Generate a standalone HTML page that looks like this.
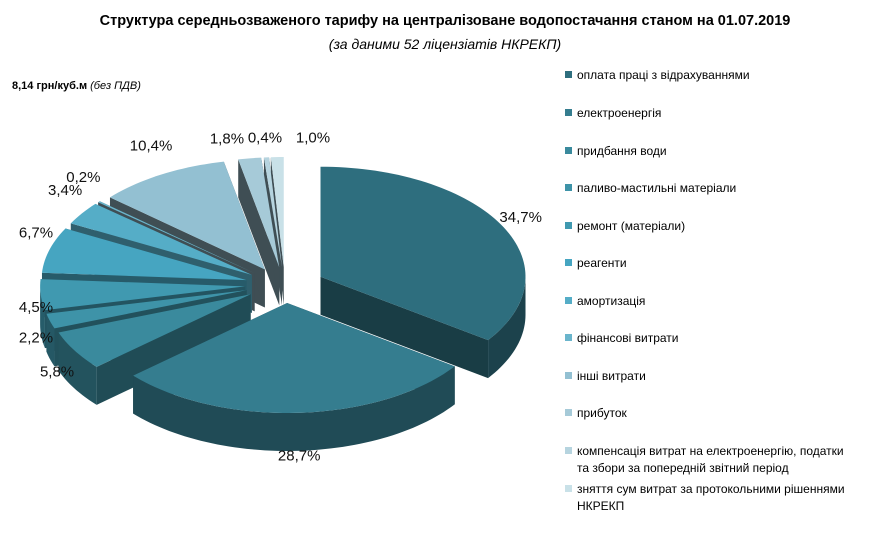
<!DOCTYPE html>
<html><head><meta charset="utf-8">
<style>
body{margin:0;background:#fff;width:890px;height:541px;overflow:hidden;font-family:"Liberation Sans","DejaVu Sans",sans-serif;}
svg text{font-family:"Liberation Sans","DejaVu Sans",sans-serif;}
</style></head>
<body>
<svg id="chart" width="890" height="541" viewBox="0 0 890 541" xmlns="http://www.w3.org/2000/svg">
<text x="445" y="25" text-anchor="middle" font-size="14.5" font-weight="bold" fill="#000">Структура середньозваженого тарифу на централізоване водопостачання станом на 01.07.2019</text>
<text x="445" y="49" text-anchor="middle" font-size="14" font-style="italic" fill="#000">(за даними 52 ліцензіатів НКРЕКП)</text>
<text x="12" y="89" font-size="11" fill="#000"><tspan font-weight="bold">8,14 грн/куб.м</tspan> <tspan font-style="italic">(без ПДВ)</tspan></text>
<g id="pie"></g>
<g id="labels"></g>
<g id="legend"></g>
</svg>
<script>
const categories = ["оплата праці з відрахуваннями","електроенергія","придбання води","паливо-мастильні матеріали","ремонт (матеріали)","реагенти","амортизація","фінансові витрати","інші витрати","прибуток","компенсація витрат на електроенергію, податки|та збори за попередній звітний період","зняття сум витрат за протокольними рішеннями|НКРЕКП"];
const values = [34.7,28.7,5.8,2.2,4.5,6.7,3.4,0.2,10.4,1.8,0.4,1.0];
const valueLabels = ["34,7%","28,7%","5,8%","2,2%","4,5%","6,7%","3,4%","0,2%","10,4%","1,8%","0,4%","1,0%"];
const colors = ["#2e6e7e","#357d8f","#3a8a9d","#3e93a8","#4099b0","#46a5c1","#55adc7","#6ab5cc","#93c0d2","#a6cad8","#b6d4df","#c9e1e8"];

const NS="http://www.w3.org/2000/svg";
const cx=285, cy=285, rx=205, ry=110, depth=38, explode=40, vf=0.45;
function shade(hex,f){const n=parseInt(hex.slice(1),16);let r=(n>>16)&255,g=(n>>8)&255,b=n&255;return `rgb(${Math.round(r*f)},${Math.round(g*f)},${Math.round(b*f)})`;}
function pt(ox,oy,a,dy){return [ox+rx*Math.sin(a), oy-ry*Math.cos(a)+(dy||0)];}
const total=values.reduce((s,v)=>s+v,0);
const slices=[];let acc=0;
values.forEach((v,i)=>{const a1=acc/total*2*Math.PI;acc+=v;const a2=acc/total*2*Math.PI;const m=(a1+a2)/2;
 slices.push({i,a1,a2,m,ox:cx+explode*Math.sin(m),oy:cy-explode*vf*Math.cos(m)});});
const pie=document.getElementById('pie');
function mk(tag,attrs){const e=document.createElementNS(NS,tag);for(const k in attrs)e.setAttribute(k,attrs[k]);return e;}
function arcPath(s,a1,a2,dy,rev){const N=Math.max(2,Math.ceil((a2-a1)/0.03));let pts=[];for(let k=0;k<=N;k++){pts.push(pt(s.ox,s.oy,a1+(a2-a1)*k/N,dy));}if(rev)pts.reverse();return pts;}
const order=slices.slice().sort((p,q)=>(-Math.cos(p.m))-(-Math.cos(q.m)));
order.forEach(s=>{
 const g=mk('g',{});
 
 
 const col=colors[s.i];
 [s.a1,s.a2].forEach(a=>{const p=pt(s.ox,s.oy,a);const w=mk('polygon',{points:`${s.ox},${s.oy} ${p[0]},${p[1]} ${p[0]},${p[1]+depth} ${s.ox},${s.oy+depth}`,fill:s.i>=7?'#3f4e54':shade(col,0.55)});
  g.appendChild(w);});
 const lo=Math.max(s.a1,Math.PI/2), hi=Math.min(s.a2,3*Math.PI/2);
 if(hi>lo){const top=arcPath(s,lo,hi,0,false), bot=arcPath(s,lo,hi,depth,true);
  const w=mk('polygon',{points:top.concat(bot).map(p=>p.join(',')).join(' '),fill:shade(col,0.6)});
  g.appendChild(w);}
 const tp=[[s.ox,s.oy]].concat(arcPath(s,s.a1,s.a2,0,false));
 const t=mk('polygon',{points:tp.map(p=>p.join(',')).join(' '),fill:col});
 g.appendChild(t);
 pie.appendChild(g);
});
const lab=document.getElementById('labels');
const pos=slices.map(s=>{let x=s.ox+rx*1.1*Math.sin(s.m);let y=s.oy-ry*1.18*Math.cos(s.m)+(Math.cos(s.m)<0?depth*0.6:0)+5;
 if(Math.sin(s.m)<-0.3 && Math.cos(s.m)>-0.9) y-=12;
 x=Math.max(x,36);return [x,y];});
// spread crowded labels near the top: push right-most first, keep gaps
const topIdx=slices.filter(s=>Math.cos(s.m)>0.9 && Math.sin(s.m)<0).map(s=>s.i).sort((a,b)=>b-a);
let prevX=null;
topIdx.forEach((i,k)=>{if(k===0){pos[i][0]=Math.max(pos[i][0],cx+28);}else{pos[i][0]=Math.min(pos[i][0],prevX-38);}prevX=pos[i][0];pos[i][1]=Math.min(pos[i][1],155);});
slices.forEach(s=>{const t=mk('text',{x:pos[s.i][0],y:pos[s.i][1],'text-anchor':'middle','font-size':'15',fill:'#111'});
 
 t.textContent=valueLabels[s.i];lab.appendChild(t);});
const leg=document.getElementById('legend');
const rows=[79,117,155,192,230,267,305,342,380,417,455,493];
categories.forEach((c,i)=>{const g=mk('g',{});
 
 g.appendChild(mk('rect',{x:565,y:rows[i]-8,width:7,height:7,fill:colors[i]}));
 c.split('|').forEach((ln,j)=>{const t=mk('text',{x:577,y:rows[i]+j*17,'font-size':'12',fill:'#000'});t.textContent=ln;g.appendChild(t);});
 leg.appendChild(g);});
</script>
</body></html>
